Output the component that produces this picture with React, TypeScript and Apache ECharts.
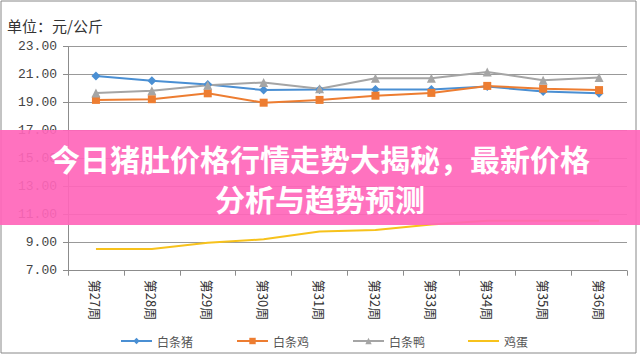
import React, { useEffect, useRef } from "react";
import * as echarts from "echarts";

const categories = ["第27周", "第28周", "第29周", "第30周", "第31周", "第32周", "第33周", "第34周", "第35周", "第36周"];
const pork = [20.9, 20.57, 20.3, 19.9, 19.95, 19.95, 19.95, 20.15, 19.8, 19.67];
const chicken = [19.2, 19.25, 19.67, 19.0, 19.2, 19.5, 19.7, 20.2, 20.0, 19.9];
const duck = [19.7, 19.85, 20.25, 20.45, 20.0, 20.75, 20.75, 21.2, 20.6, 20.8];
const eggs = [8.55, 8.55, 9.0, 9.24, 9.8, 9.9, 10.3, 10.57, 10.57, 10.57];
const seriesNames = ["白条猪", "白条鸡", "白条鸭", "鸡蛋"];
const unitLabel = "单位：元/公斤";
const titleLines = ["今日猪肚价格行情走势大揭秘，最新价格", "分析与趋势预测"];

export default function App() {
  const ref = useRef<HTMLDivElement>(null);
  useEffect(() => {
    if (!ref.current) return;
    const chart = echarts.init(ref.current, null, { renderer: "svg" });
    const axisGray = "#8c8c8c";
    const mkLine = (name: string, data: number[], color: string, symbol: string, size: number) => ({
      name,
      type: "line",
      data,
      symbol,
      symbolSize: size,
      showSymbol: symbol !== "none",
      lineStyle: { color, width: 2 },
      itemStyle: { color },
      z: 3,
    });
    chart.setOption({
      animation: false,
      backgroundColor: "#ffffff",
      grid: { left: 68, right: 13, top: 46.7, bottom: 85.3 },
      legend: {
        left: 115,
        top: 330,
        itemWidth: 31,
        itemHeight: 8,
        itemGap: 43,
        textStyle: { fontSize: 12, color: "#555", fontFamily: "Noto Sans CJK SC" },
        data: [
          seriesNames[0],
          seriesNames[1],
          seriesNames[2],
          { name: seriesNames[3], icon: "path://M0,0H31V2H0Z", itemStyle: { color: "#f7c21c" } },
        ],
      },
      xAxis: {
        type: "category",
        data: categories,
        boundaryGap: true,
        axisLine: { lineStyle: { color: axisGray } },
        axisTick: { show: true, length: 5, lineStyle: { color: axisGray } },
        axisLabel: {
          interval: 0,
          rotate: -90,
          margin: 9,
          color: "#333",
          fontSize: 13,
          fontFamily: "Noto Sans CJK SC",
        },
      },
      yAxis: {
        type: "value",
        min: 7,
        max: 23,
        interval: 2,
        axisLine: { show: true, lineStyle: { color: axisGray } },
        axisTick: { show: true, length: 5, lineStyle: { color: axisGray } },
        splitLine: { lineStyle: { color: "#999", width: 1 } },
        axisLabel: {
          margin: 11,
          color: "#444",
          fontSize: 13,
          fontFamily: "Liberation Mono",
          formatter: (v: number) => v.toFixed(2),
        },
      },
      series: [
        mkLine(seriesNames[0], pork, "#4a8fd3", "diamond", 9),
        mkLine(seriesNames[1], chicken, "#ed7d31", "rect", 8),
        mkLine(seriesNames[2], duck, "#a5a5a5", "triangle", 9),
        mkLine(seriesNames[3], eggs, "#f7c21c", "none", 0),
      ],
      graphic: [
        {
          type: "rect",
          shape: { x: 1, y: 1, width: 635, height: 352 },
          style: { fill: "none", stroke: "#888", lineWidth: 1 },
          z: 10,
        },
        {
          type: "text",
          left: 7,
          top: 18,
          style: { text: unitLabel, fontSize: 15, fill: "#333", fontFamily: "Noto Sans CJK SC" },
          z: 10,
        },
        {
          type: "rect",
          shape: { x: 0, y: 130, width: 640, height: 95 },
          style: { fill: "rgba(255,102,186,0.92)" },
          z: 20,
        },
        {
          type: "text",
          x: 320,
          y: 158,
          style: {
            text: titleLines[0],
            fontSize: 30,
            fontWeight: "bold",
            fill: "#ffffff",
            fontFamily: "Noto Sans CJK SC",
            align: "center",
            verticalAlign: "middle",
          },
          z: 21,
        },
        {
          type: "text",
          x: 320,
          y: 198,
          style: {
            text: titleLines[1],
            fontSize: 30,
            fontWeight: "bold",
            fill: "#ffffff",
            fontFamily: "Noto Sans CJK SC",
            align: "center",
            verticalAlign: "middle",
          },
          z: 21,
        },
      ],
    });
    return () => chart.dispose();
  }, []);
  return <div ref={ref} style={{ position: "fixed", left: 0, top: 0, width: 640, height: 356 }} />;
}
